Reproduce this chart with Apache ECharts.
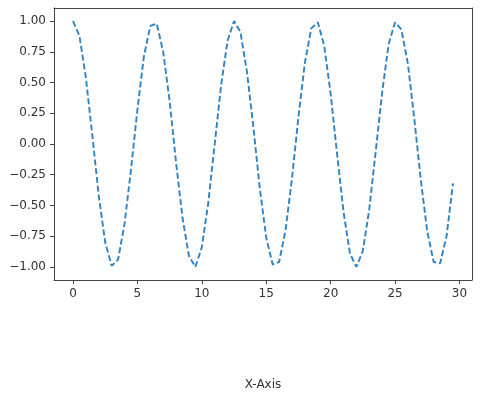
<!DOCTYPE html>
<html>
<head>
<meta charset="utf-8">
<script src="https://cdn.jsdelivr.net/npm/echarts@6/dist/echarts.min.js"></script>
<style>
  html, body { margin: 0; padding: 0; background: #fff; }
  #chart { width: 493px; height: 406px; }
</style>
</head>
<body>
<div id="chart"></div>
<script>
const xValues = [
  0, 0.5, 1, 1.5, 2, 2.5, 3, 3.5, 4, 4.5,
  5, 5.5, 6, 6.5, 7, 7.5, 8, 8.5, 9, 9.5,
  10, 10.5, 11, 11.5, 12, 12.5, 13, 13.5, 14, 14.5,
  15, 15.5, 16, 16.5, 17, 17.5, 18, 18.5, 19, 19.5,
  20, 20.5, 21, 21.5, 22, 22.5, 23, 23.5, 24, 24.5,
  25, 25.5, 26, 26.5, 27, 27.5, 28, 28.5, 29, 29.5,
];
const yValues = [
  1.00, 0.88, 0.54, 0.07, -0.42, -0.80, -0.99, -0.94, -0.65, -0.21,
  0.28, 0.71, 0.96, 0.98, 0.75, 0.35, -0.15, -0.60, -0.91, -1.00,
  -0.84, -0.48, 0.00, 0.48, 0.84, 1.00, 0.91, 0.59, 0.14, -0.36,
  -0.76, -0.98, -0.96, -0.70, -0.28, 0.22, 0.66, 0.94, 0.99, 0.80,
  0.41, -0.08, -0.55, -0.89, -1.00, -0.87, -0.53, -0.06, 0.42, 0.81,
  0.99, 0.93, 0.65, 0.20, -0.29, -0.71, -0.96, -0.97, -0.75, -0.32,
];
const xTicks = [0, 5, 10, 15, 20, 25, 30];
const yTicks = [-1.00, -0.75, -0.50, -0.25, 0.00, 0.25, 0.50, 0.75, 1.00];

const FONT = 'DejaVu Sans';
const INK = '#333';
const SPINE = '#444';
const X_MIN = -1.475, X_MAX = 30.975;
const Y_MIN = -1.106, Y_MAX = 1.106;

// bare axis used only to close the frame on top / right
function frameAxis(extra) {
  return Object.assign({
    type: 'value',
    axisLine: { show: true, onZero: false, lineStyle: { color: SPINE, width: 1 } },
    axisTick: { show: false },
    axisLabel: { show: false },
    splitLine: { show: false },
  }, extra);
}

const chart = echarts.init(document.getElementById('chart'));
chart.setOption({
  animation: false,
  grid: { left: 54, top: 8, right: 21, bottom: 126 },
  xAxis: [
    {
      type: 'value',
      min: X_MIN,
      max: X_MAX,
      position: 'bottom',
      name: 'X-Axis',
      nameLocation: 'middle',
      nameGap: 99,
      nameTextStyle: { color: INK, fontFamily: FONT, fontSize: 12 },
      axisLine: { show: true, onZero: false, lineStyle: { color: SPINE, width: 1 } },
      splitLine: { show: false },
      axisTick: { show: true, customValues: xTicks, length: 4, lineStyle: { color: SPINE } },
      axisLabel: {
        customValues: xTicks, margin: 8,
        color: INK, fontFamily: FONT, fontSize: 12,
      },
    },
    frameAxis({ min: X_MIN, max: X_MAX, position: 'top' }),
  ],
  yAxis: [
    {
      type: 'value',
      min: Y_MIN,
      max: Y_MAX,
      position: 'left',
      axisLine: { show: true, onZero: false, lineStyle: { color: SPINE, width: 1 } },
      splitLine: { show: false },
      axisTick: { show: true, customValues: yTicks, length: 4, lineStyle: { color: SPINE } },
      axisLabel: {
        customValues: yTicks, margin: 8,
        color: INK, fontFamily: FONT, fontSize: 12,
        formatter: v => v.toFixed(2).replace('-', '\u2212'),
      },
    },
    frameAxis({ min: Y_MIN, max: Y_MAX, position: 'right' }),
  ],
  series: [{
    type: 'line',
    xAxisIndex: 0,
    yAxisIndex: 0,
    data: xValues.map((x, i) => [x, yValues[i]]),
    showSymbol: false,
    lineStyle: { color: '#2f83bf', width: 1.9, type: [6, 2.8] },
  }],
});
</script>
</body>
</html>
